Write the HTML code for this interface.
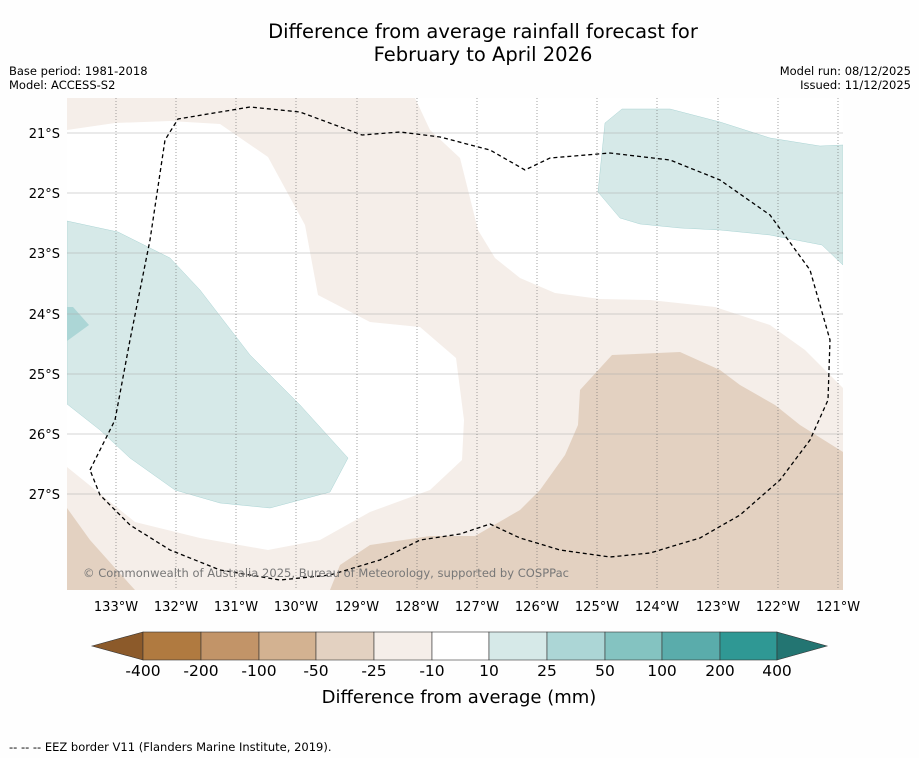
<!DOCTYPE html>
<html><head><meta charset="utf-8">
<style>
body{margin:0;background:#fff;font-family:"Liberation Sans","DejaVu Sans",sans-serif;}
svg text{font-family:"DejaVu Sans","Liberation Sans",sans-serif;}
</style></head>
<body>
<svg width="919" height="758" viewBox="0 0 919 758">
<rect width="919" height="758" fill="#fefefe"/>
<text x="483" y="38" font-size="19.5" text-anchor="middle">Difference from average rainfall forecast for</text>
<text x="483" y="61" font-size="19.5" text-anchor="middle">February to April 2026</text>
<text x="9" y="75" font-size="11.5">Base period: 1981-2018</text>
<text x="9" y="89" font-size="11.5">Model: ACCESS-S2</text>
<text x="911" y="75" font-size="11.5" text-anchor="end">Model run: 08/12/2025</text>
<text x="911" y="89" font-size="11.5" text-anchor="end">Issued: 11/12/2025</text>

<defs><clipPath id="mc"><rect x="67" y="98" width="776" height="492"/></clipPath></defs>
<g clip-path="url(#mc)">
<rect x="67" y="98" width="776" height="492" fill="#f5eee9"/>
<polygon fill="#fff" points="67,130 115,123 170,121 220,124 268,157 305,225 318,295 370,322 420,327 456,358 464,420 462,460 430,490 370,512 320,540 268,550 200,538 135,522 67,467"/>
<polygon fill="#fff" points="415,98 430,130 460,158 478,230 495,258 520,278 555,293 600,299 650,300 715,307 770,325 805,350 843,388 843,98"/>
<polygon fill="#d6e9e8" stroke="#9cc" stroke-width="0.4" points="67,221 118,232 170,258 200,290 250,355 300,405 348,458 330,492 270,508 220,503 175,490 130,458 100,430 67,404"/>
<polygon fill="#acd6d6" points="67,307 73,307 89,325 67,341"/>
<polygon fill="#d6e9e8" stroke="#9cc" stroke-width="0.4" points="605,123 622,109 670,109 720,122 770,138 820,146 843,145 843,265 822,245 770,235 720,230 680,228 640,224 620,218 598,192"/>
<polygon fill="#e3d1c1" points="580,390 612,355 680,352 720,370 740,385 775,405 800,425 843,452 843,590 330,590 340,565 370,545 430,536 475,536 520,510 540,490 565,455 578,425"/>
<polygon fill="#e3d1c1" points="67,508 90,540 115,568 135,590 67,590"/>
<g stroke="#aaa" stroke-width="0.6">
<line x1="67" x2="843" y1="133" y2="133"/><line x1="67" x2="843" y1="193" y2="193"/><line x1="67" x2="843" y1="253" y2="253"/><line x1="67" x2="843" y1="314" y2="314"/><line x1="67" x2="843" y1="374" y2="374"/><line x1="67" x2="843" y1="434" y2="434"/><line x1="67" x2="843" y1="494" y2="494"/>
</g>
<g stroke="#666" stroke-width="0.6" stroke-dasharray="1,2">
<line y1="98" y2="590" x1="116" x2="116"/><line y1="98" y2="590" x1="176" x2="176"/><line y1="98" y2="590" x1="236" x2="236"/><line y1="98" y2="590" x1="296" x2="296"/><line y1="98" y2="590" x1="357" x2="357"/><line y1="98" y2="590" x1="417" x2="417"/><line y1="98" y2="590" x1="477" x2="477"/><line y1="98" y2="590" x1="537" x2="537"/><line y1="98" y2="590" x1="597" x2="597"/><line y1="98" y2="590" x1="657" x2="657"/><line y1="98" y2="590" x1="718" x2="718"/><line y1="98" y2="590" x1="778" x2="778"/><line y1="98" y2="590" x1="838" x2="838"/>
</g>
<polyline fill="none" stroke="#000" stroke-width="1.3" stroke-dasharray="4,3" points="90,470 115,420 130,340 150,240 165,140 178,119 250,107 300,112 362,135 400,132 440,137 490,150 525,170 550,158 610,153 670,160 720,180 770,215 810,270 830,340 828,400 810,440 780,480 740,515 700,538 650,553 610,557 560,550 520,538 490,524 460,534 420,540 380,560 330,575 280,580 220,570 170,550 130,525 100,495 90,470"/>
<text x="83" y="577" font-size="11.5" fill="#777" textLength="486">© Commonwealth of Australia 2025, Bureau of Meteorology, supported by COSPPac</text>
</g>

<g font-size="13" text-anchor="end">
<text x="60" y="138">21°S</text><text x="60" y="198">22°S</text><text x="60" y="258">23°S</text><text x="60" y="319">24°S</text><text x="60" y="379">25°S</text><text x="60" y="439">26°S</text><text x="60" y="499">27°S</text>
</g>
<g font-size="13" text-anchor="middle">
<text x="116" y="611">133°W</text><text x="176" y="611">132°W</text><text x="236" y="611">131°W</text><text x="296" y="611">130°W</text><text x="357" y="611">129°W</text><text x="417" y="611">128°W</text><text x="477" y="611">127°W</text><text x="537" y="611">126°W</text><text x="597" y="611">125°W</text><text x="657" y="611">124°W</text><text x="718" y="611">123°W</text><text x="778" y="611">122°W</text><text x="838" y="611">121°W</text>
</g>

<g stroke="#333" stroke-width="0.6">
<polygon points="92,646 143,632 143,660" fill="#8c5a2a"/>
<rect x="143" y="632" width="58" height="28" fill="#b07a40"/>
<rect x="201" y="632" width="58" height="28" fill="#c29468"/>
<rect x="259" y="632" width="57" height="28" fill="#d3b291"/>
<rect x="316" y="632" width="58" height="28" fill="#e3d1c1"/>
<rect x="374" y="632" width="58" height="28" fill="#f5eee9"/>
<rect x="432" y="632" width="57" height="28" fill="#ffffff"/>
<rect x="489" y="632" width="58" height="28" fill="#d6e9e8"/>
<rect x="547" y="632" width="58" height="28" fill="#acd6d6"/>
<rect x="605" y="632" width="57" height="28" fill="#84c3c1"/>
<rect x="662" y="632" width="58" height="28" fill="#5aacab"/>
<rect x="720" y="632" width="57" height="28" fill="#2f9894"/>
<polygon points="777,632 827,646 777,660" fill="#237572"/>
</g>
<g font-size="15.5" text-anchor="middle">
<text x="143" y="676">-400</text><text x="201" y="676">-200</text><text x="259" y="676">-100</text><text x="316" y="676">-50</text><text x="374" y="676">-25</text><text x="432" y="676">-10</text><text x="489" y="676">10</text><text x="547" y="676">25</text><text x="605" y="676">50</text><text x="662" y="676">100</text><text x="720" y="676">200</text><text x="777" y="676">400</text>
</g>
<text x="459" y="703" font-size="18" text-anchor="middle">Difference from average (mm)</text>
<text x="9" y="751" font-size="11.5">--  --  -- EEZ border V11 (Flanders Marine Institute, 2019).</text>
</svg>
</body></html>
